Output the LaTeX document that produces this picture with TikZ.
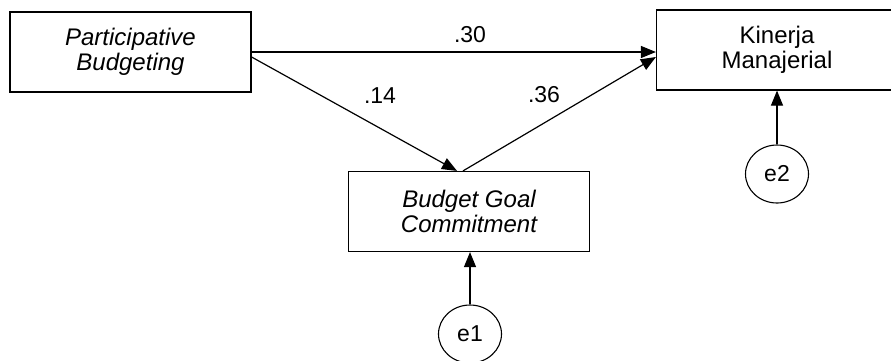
\documentclass[tikz,border=0pt]{standalone}
\usepackage{fontspec}
\setmainfont{Liberation Sans}
\usetikzlibrary{arrows.meta,shapes.geometric,calc}
\begin{document}
\begin{tikzpicture}[x=1pt,y=-1pt,
  box/.style={draw,line width=1.2pt,minimum width=241pt,minimum height=80pt,inner sep=0pt,align=center,
    font=\fontsize{24}{25}\selectfont},
  err/.style={draw,ellipse,line width=1.1pt,minimum width=63pt,minimum height=58pt,inner sep=0pt,
    font=\fontsize{23}{25}\selectfont},
  lbl/.style={font=\fontsize{23}{25}\selectfont,inner sep=0pt},
  path/.style={line width=1.2pt,-{Triangle[length=15pt,width=12pt]}}]
\useasboundingbox (0,0) rectangle (891,360);
\fill[white] (0,0) rectangle (891,360);
\clip (0,0) rectangle (891,360);
\node[box] (pb) at (130.5,52) {\itshape Participative\\\itshape Budgeting};
\node[box] (km) at (777,50) {Kinerja\\Manajerial};
\node[box] (bgc) at (469,211.5) {\itshape Budget Goal\\\itshape Commitment};
\node[err] (e1) at (470,334) {e1};
\node[err] (e2) at (777,174) {e2};
\coordinate (pbs) at ($(pb.east)+(0,5)$);
\coordinate (bgcl) at ($(bgc.north)+(-12,0)$);
\coordinate (bgcr) at ($(bgc.north)+(-6,0)$);
\coordinate (kml) at ($(km.west)+(0,7)$);
\draw[path] (pb.east) -- (pb.east -| km.west);
\draw[path] (pbs) -- (bgcl);
\draw[path] (bgcr) -- (kml);
\draw[path] (e1.north) -- (bgc.south -| e1.north);
\draw[path] (e2.north) -- (km.south -| e2.north);
\node[lbl] (l30) at (470,35) {.30};
\node[lbl] (l14) at (380,96) {.14};
\node[lbl] (l36) at (544,95) {.36};
\end{tikzpicture}
\end{document}
